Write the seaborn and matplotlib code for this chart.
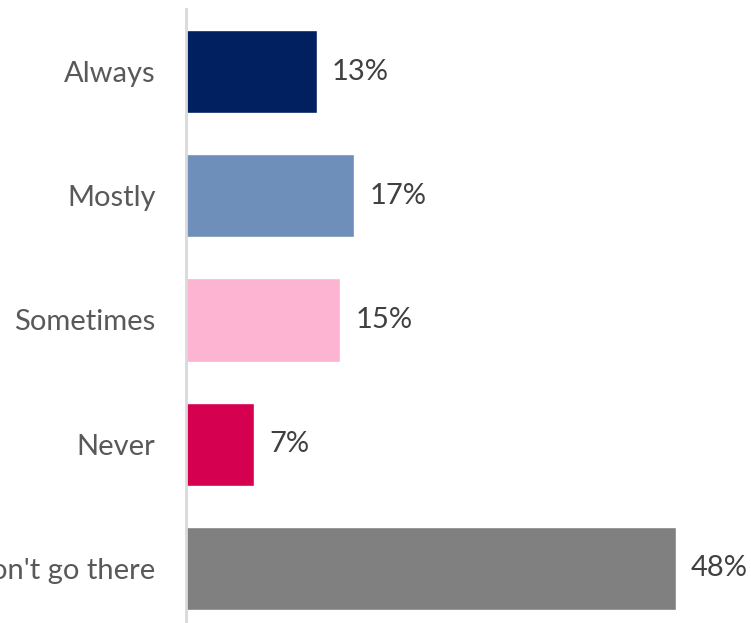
import matplotlib
matplotlib.use("Agg")
import matplotlib.pyplot as plt
import seaborn as sns
import pandas as pd

categories = ["Always", "Mostly", "Sometimes", "Never", "I don't go there"]
values = [12.8, 16.5, 15.1, 6.7, 48.0]
labels = ["13%", "17%", "15%", "7%", "48%"]
colors = ["#002060", "#6E8FB9", "#FDB4D2", "#D5004F", "#808080"]

sns.set_theme(style="white")
plt.rcParams['font.family'] = ['Lato', 'DejaVu Sans']

df = pd.DataFrame({"cat": categories, "val": values})

fig = plt.figure(figsize=(7.51, 6.23), dpi=100)
ax = fig.add_axes([186/751, 0, 1 - 186/751, (623 - 9.4)/623])
sns.barplot(data=df, y="cat", x="val", hue="cat", palette=colors, legend=False,
            orient="h", width=0.67, ax=ax, saturation=1)

ax.set_xlim(0, (751 - 186) / 10.2)
ax.set_ylim(4.44, -0.5)
ax.set_xlabel("")
ax.set_ylabel("")
ax.set_xticks([])
for s in ["top", "right", "bottom"]:
    ax.spines[s].set_visible(False)
ax.spines["left"].set_color("#D9D9D9")
ax.spines["left"].set_linewidth(2)
ax.tick_params(axis="y", length=0, pad=22, labelsize=21, labelcolor="#595959")

for i, (v, lab) in enumerate(zip(values, labels)):
    ax.annotate(lab, (v, i), xytext=(11, 0), textcoords="offset points",
                va="center", ha="left", fontsize=21, color="#404040")

fig.savefig("out.png", dpi=100)
